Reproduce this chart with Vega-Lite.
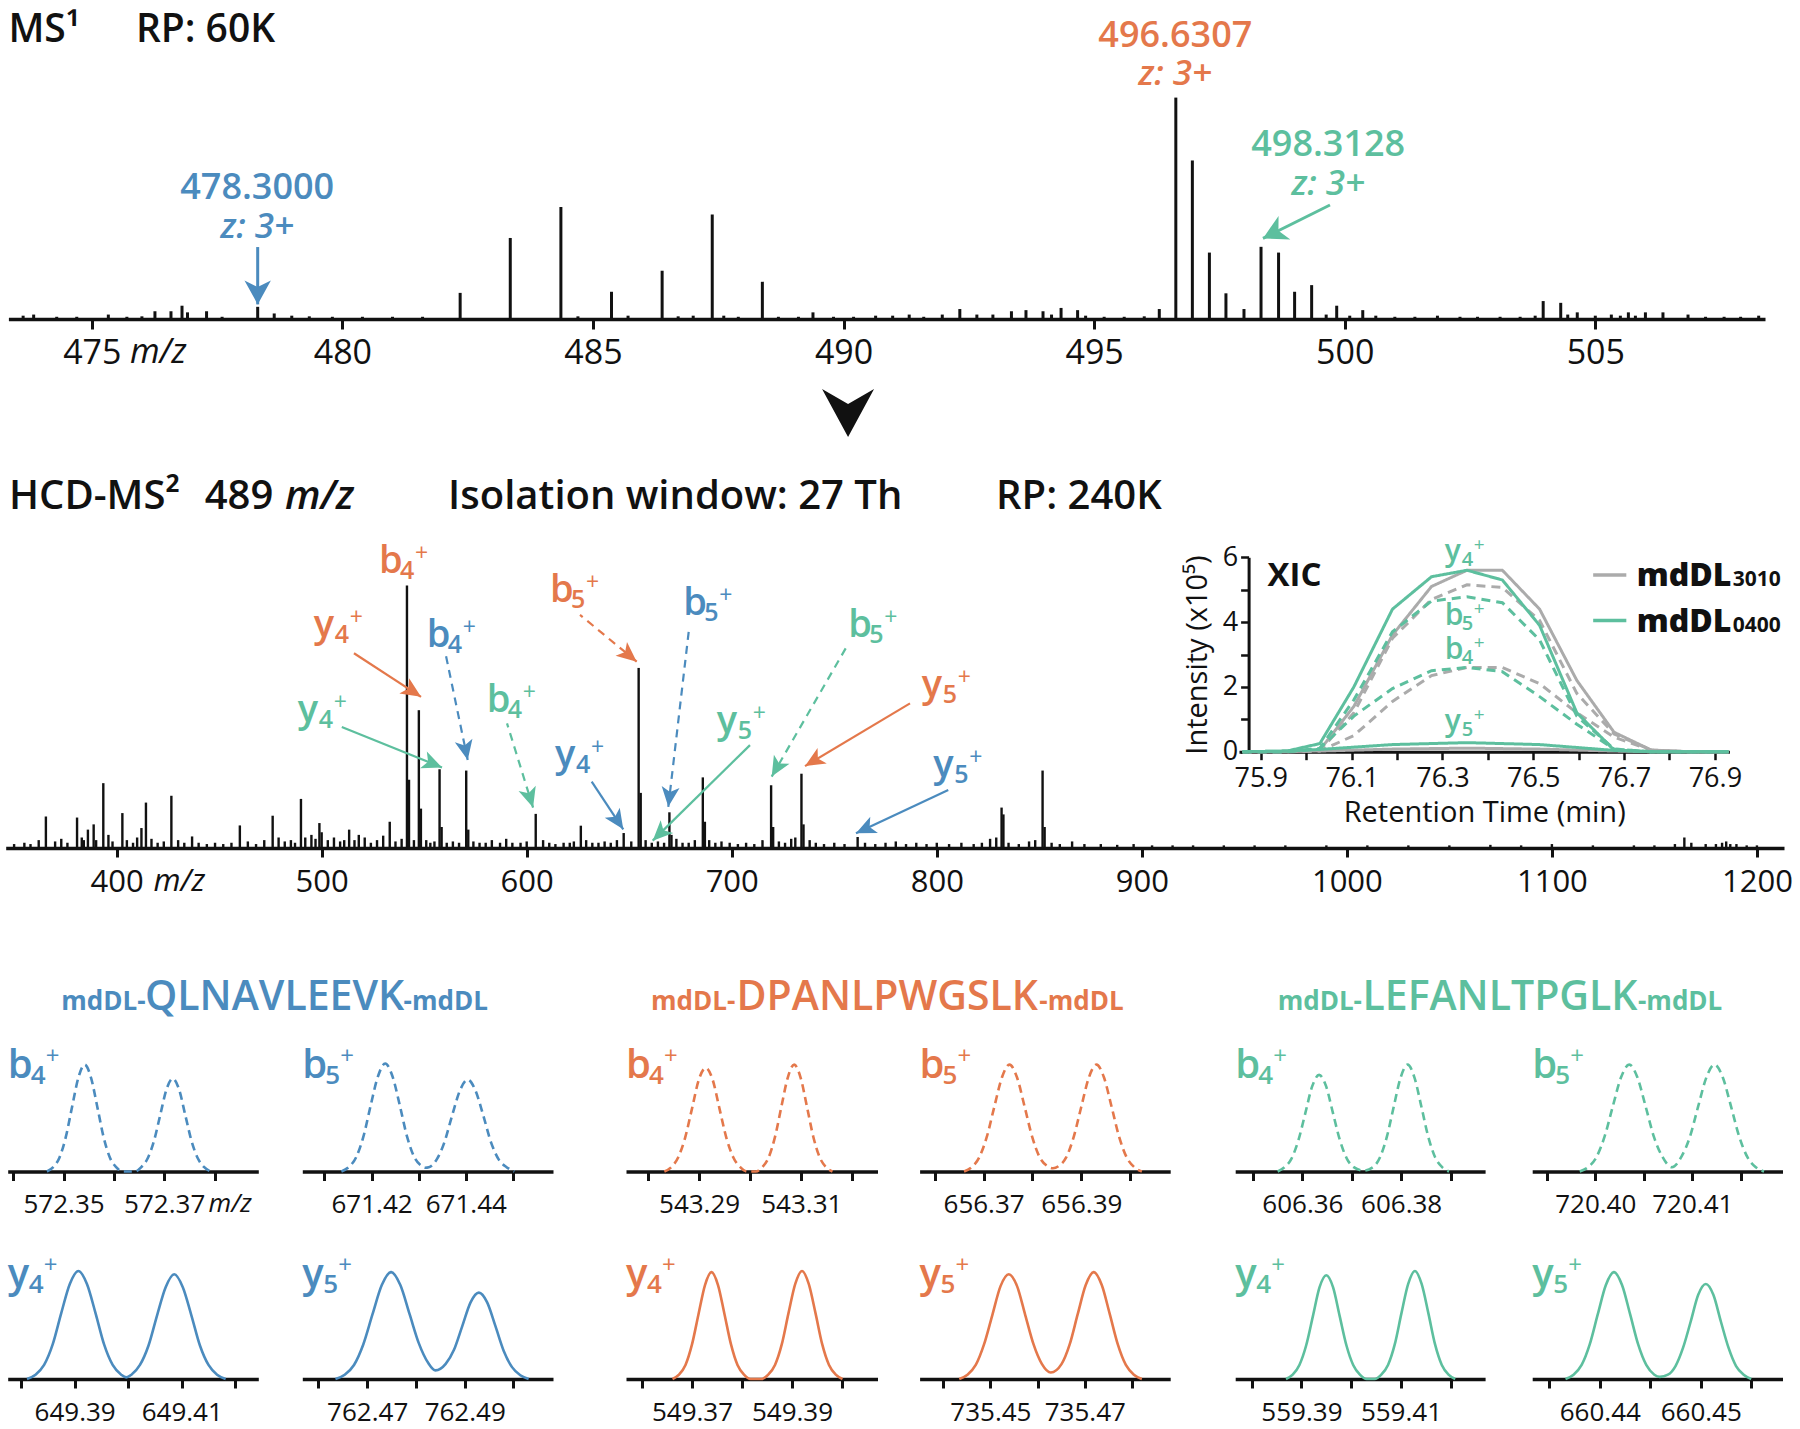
{
"$schema": "https://vega.github.io/schema/vega-lite/v6.json",
"width": 1800, "height": 1429,
"autosize": {"type": "none"},
"padding": 0,
"background": "#ffffff",
"config": {
  "view": {"stroke": null},
  "font": "Open Sans",
  "text": {"font": "Open Sans"},
  "axis": {"grid": false, "domainColor": "#111111", "tickColor": "#111111", "labelColor": "#111111", "titleColor": "#111111", "labelFont": "Open Sans", "titleFont": "Open Sans", "titleFontWeight": "normal", "labelFlush": false, "labelOverlap": false, "domainWidth": 3.5, "tickWidth": 3, "labelPadding": 4}
},
"resolve": {"scale": {"x": "independent", "y": "independent", "color": "independent", "strokeDash": "independent"}, "axis": {"x": "independent", "y": "independent"}},
"datasets": {
  "ms1": [
    {"x":473.63,"y":1.5},{"x":473.84,"y":2},{"x":474.3,"y":1},{"x":474.7,"y":1},{"x":475.33,"y":2},{"x":475.7,"y":1},{"x":476.0,"y":1.2},{"x":476.26,"y":3.5},{"x":476.58,"y":3.5},{"x":476.8,"y":6},{"x":476.91,"y":3},{"x":477.29,"y":3.5},{"x":477.6,"y":1},{"x":478.31,"y":5.5},{"x":478.64,"y":2.5},{"x":478.99,"y":1.5},{"x":479.34,"y":1.2},{"x":479.8,"y":1},{"x":480.4,"y":1},{"x":481.0,"y":1},{"x":481.6,"y":1},{"x":482.35,"y":11.8},{"x":483.35,"y":36.6},{"x":484.36,"y":50.6},{"x":484.7,"y":1.2},{"x":485.37,"y":12.3},{"x":485.7,"y":1.5},{"x":486.38,"y":21.8},{"x":486.7,"y":1.2},{"x":487.0,"y":1.5},{"x":487.38,"y":47.2},{"x":487.61,"y":1.5},{"x":487.9,"y":1},{"x":488.38,"y":16.8},{"x":488.7,"y":1},{"x":489.1,"y":1},{"x":489.39,"y":3},{"x":489.8,"y":1},{"x":490.2,"y":1},{"x":490.64,"y":1.5},{"x":490.98,"y":1.5},{"x":491.31,"y":2},{"x":491.6,"y":1},{"x":491.97,"y":2},{"x":492.32,"y":4.5},{"x":492.66,"y":2},{"x":492.98,"y":2},{"x":493.35,"y":3.5},{"x":493.64,"y":4},{"x":493.98,"y":3.5},{"x":494.15,"y":2},{"x":494.34,"y":5},{"x":494.67,"y":4},{"x":494.83,"y":1.5},{"x":495.2,"y":1},{"x":495.6,"y":1},{"x":496.0,"y":1.2},{"x":496.3,"y":4.5},{"x":496.63,"y":100},{"x":496.96,"y":71.6},{"x":497.3,"y":30},{"x":497.63,"y":11.6},{"x":497.99,"y":4.5},{"x":498.33,"y":32.6},{"x":498.68,"y":30},{"x":499.0,"y":12.3},{"x":499.34,"y":15.3},{"x":499.63,"y":2},{"x":499.84,"y":6},{"x":500.1,"y":1.5},{"x":500.36,"y":4},{"x":500.62,"y":1.5},{"x":501.0,"y":1},{"x":501.4,"y":1},{"x":501.85,"y":1.5},{"x":502.3,"y":1},{"x":502.65,"y":1},{"x":503.1,"y":1},{"x":503.5,"y":1},{"x":503.8,"y":1.5},{"x":503.96,"y":8.1},{"x":504.31,"y":7.3},{"x":504.45,"y":2},{"x":504.64,"y":3},{"x":505.0,"y":1.5},{"x":505.32,"y":2},{"x":505.5,"y":1.5},{"x":505.66,"y":3},{"x":505.8,"y":1.5},{"x":506.0,"y":3},{"x":506.35,"y":3},{"x":506.85,"y":2},{"x":507.2,"y":1},{"x":507.57,"y":1},{"x":507.9,"y":1},{"x":508.26,"y":1.5}
  ],
  "ms1t": [
    {"x":478.3,"y":54.0,"t":"478.3000","c":"blue","k":"n"},
    {"x":478.3,"y":36.6,"t":"z: 3+","c":"blue","k":"z"},
    {"x":496.62,"y":122.7,"t":"496.6307","c":"orange","k":"n"},
    {"x":496.62,"y":105.7,"t":"z: 3+","c":"orange","k":"z"},
    {"x":499.67,"y":73.4,"t":"498.3128","c":"green","k":"n"},
    {"x":499.67,"y":55.8,"t":"z: 3+","c":"green","k":"z"}
  ],
  "ms1a": [
    {"x":478.31,"y":6.6,"x2":478.31,"y2":32.5,"c":"blue"},
    {"x":498.369,"y":36.4,"x2":499.706,"y2":51.5,"c":"green"}
  ],
  "ms1ti": [
    {"x":473.336,"y":125.1,"t":"MS¹"},
    {"x":475.88,"y":125.1,"t":"RP: 60K"}
  ],
  "ms2": [
    {"x":365.5,"y":12},{"x":380.7,"y":11.6},{"x":386,"y":7},{"x":388.8,"y":9},{"x":393.5,"y":24.7},{"x":402.8,"y":13.3},{"x":412.1,"y":7.6},{"x":414.3,"y":17.3},{"x":426.7,"y":19.9},{"x":436.8,"y":4.4},{"x":460.1,"y":8.6},{"x":476.1,"y":12.3},{"x":489.9,"y":18.7},{"x":498.9,"y":9.5},{"x":513.4,"y":7},{"x":518.1,"y":5},{"x":530,"y":4.7},{"x":533.2,"y":10},{"x":541.6,"y":100},{"x":542.6,"y":26},{"x":547.4,"y":52.5},{"x":548.4,"y":15},{"x":557.5,"y":30},{"x":558.5,"y":8},{"x":570.5,"y":29.5},{"x":571.5,"y":7},{"x":604.4,"y":13},{"x":626.4,"y":8.5},{"x":647.3,"y":5.7},{"x":654.6,"y":68.6},{"x":655.6,"y":21},{"x":669.6,"y":13.6},{"x":670.6,"y":5},{"x":685.9,"y":26.9},{"x":686.9,"y":10},{"x":719.2,"y":23.9},{"x":720.2,"y":8},{"x":734.0,"y":28.3},{"x":735.0,"y":9},{"x":761.4,"y":4.2},{"x":831.6,"y":15.4},{"x":832.5,"y":12.8},{"x":851.6,"y":29.5},{"x":852.6,"y":8},{"x":1164.6,"y":4},{"x":1183,"y":2},{"x":1185,"y":2.5},{"x":1187,"y":1.5},
    {"x":350,"y":1.5},{"x":355,"y":2},{"x":358,"y":1.5},{"x":362,"y":3},{"x":370,"y":2.5},{"x":373,"y":3.5},{"x":376,"y":2},{"x":383,"y":4},{"x":384,"y":3},{"x":390,"y":3},{"x":396,"y":5},{"x":398,"y":2.5},{"x":405,"y":3},{"x":408,"y":2},{"x":410,"y":4},{"x":417,"y":3.5},{"x":420,"y":2},{"x":423,"y":2.5},{"x":430,"y":3},{"x":433,"y":2},{"x":440,"y":2},{"x":444,"y":1.5},{"x":448,"y":2},{"x":452,"y":1.5},{"x":456,"y":2},{"x":464,"y":2.5},{"x":468,"y":1.5},{"x":472,"y":3},{"x":479,"y":4},{"x":482,"y":2.5},{"x":485,"y":3},{"x":487,"y":2},{"x":492,"y":4},{"x":495,"y":5},{"x":497,"y":3.5},{"x":500,"y":6},{"x":503,"y":3},{"x":506,"y":4},{"x":509,"y":2.5},{"x":511,"y":3},{"x":516,"y":3},{"x":521,"y":4},{"x":524,"y":2},{"x":527,"y":3},{"x":536,"y":2.5},{"x":539,"y":3.5},{"x":545,"y":3},{"x":551,"y":3},{"x":553,"y":2},{"x":555,"y":2.5},{"x":561,"y":2},{"x":564,"y":2.5},{"x":567,"y":2},{"x":574,"y":2.5},{"x":577,"y":2},{"x":580,"y":2},{"x":583,"y":3},{"x":587,"y":2},{"x":590,"y":3.5},{"x":593,"y":2},{"x":597,"y":2},{"x":600,"y":2.5},{"x":608,"y":3},{"x":611,"y":2},{"x":614,"y":1.5},{"x":618,"y":2},{"x":621,"y":2},{"x":623,"y":2.5},{"x":629,"y":3},{"x":632,"y":2},{"x":635,"y":2},{"x":638,"y":2.5},{"x":641,"y":2},{"x":644,"y":3},{"x":651,"y":2.5},{"x":658,"y":3},{"x":661,"y":2},{"x":664,"y":2.5},{"x":667,"y":2},{"x":673,"y":3.5},{"x":676,"y":2},{"x":679,"y":2},{"x":682,"y":3},{"x":689,"y":3},{"x":692,"y":2},{"x":695,"y":2.5},{"x":699,"y":2},{"x":703,"y":1.5},{"x":707,"y":2},{"x":711,"y":1.5},{"x":715,"y":3},{"x":723,"y":2.5},{"x":726,"y":2},{"x":729,"y":3.5},{"x":731,"y":4},{"x":738,"y":3},{"x":741,"y":2},{"x":745,"y":1.5},{"x":750,"y":2},{"x":755,"y":1.5},{"x":765,"y":2},{"x":770,"y":1.5},{"x":775,"y":2},{"x":780,"y":2.5},{"x":785,"y":1.5},{"x":790,"y":2},{"x":795,"y":1.5},{"x":800,"y":2},{"x":806,"y":1.5},{"x":812,"y":2},{"x":818,"y":1.5},{"x":822,"y":2},{"x":826,"y":3.5},{"x":829,"y":4},{"x":835,"y":2},{"x":840,"y":1.5},{"x":845,"y":2.5},{"x":848,"y":3},{"x":856,"y":2},{"x":860,"y":1.5},{"x":866,"y":2.5},{"x":872,"y":1.5},{"x":880,"y":1.5},{"x":888,"y":1.2},{"x":896,"y":1.5},{"x":905,"y":1},{"x":915,"y":1},{"x":925,"y":1},{"x":940,"y":1},{"x":955,"y":1},{"x":970,"y":1},{"x":990,"y":1},{"x":1010,"y":1},{"x":1030,"y":1},{"x":1050,"y":1},{"x":1070,"y":1.2},{"x":1085,"y":1},{"x":1100,"y":1.5},{"x":1120,"y":1},{"x":1140,"y":1},{"x":1150,"y":1},{"x":1160,"y":1.5},{"x":1168,"y":2},{"x":1175,"y":1.5},{"x":1180,"y":1.5},{"x":1190,"y":1.5},{"x":1195,"y":1},{"x":1200,"y":1}
  ],
  "ms2l": [
    {"x":527.97,"y":104.8,"ion":"b","n":"4","c":"orange"},
    {"x":496.17,"y":80.4,"ion":"y","n":"4","c":"orange"},
    {"x":611.36,"y":93.8,"ion":"b","n":"5","c":"orange"},
    {"x":792.64,"y":57.6,"ion":"y","n":"5","c":"orange"},
    {"x":551.23,"y":76.7,"ion":"b","n":"4","c":"blue"},
    {"x":676.37,"y":88.8,"ion":"b","n":"5","c":"blue"},
    {"x":613.8,"y":31.0,"ion":"y","n":"4","c":"blue"},
    {"x":798.3,"y":27.2,"ion":"y","n":"5","c":"blue"},
    {"x":580.54,"y":51.9,"ion":"b","n":"4","c":"green"},
    {"x":756.85,"y":80.5,"ion":"b","n":"5","c":"green"},
    {"x":488.32,"y":48.1,"ion":"y","n":"4","c":"green"},
    {"x":692.66,"y":43.7,"ion":"y","n":"5","c":"green"}
  ],
  "ms2a": [
    {"x":548.45,"y":57.6,"x2":515.76,"y2":74.2,"c":"orange","d":"s"},
    {"x":653.65,"y":71.0,"x2":626.0,"y2":88.8,"c":"orange","d":"d"},
    {"x":735.73,"y":31.2,"x2":786.94,"y2":55.1,"c":"orange","d":"s"},
    {"x":571.23,"y":33.5,"x2":560.55,"y2":73.5,"c":"blue","d":"d"},
    {"x":669.06,"y":15.7,"x2":679.3,"y2":84.3,"c":"blue","d":"d"},
    {"x":647.1,"y":7.1,"x2":631.7,"y2":25.3,"c":"blue","d":"s"},
    {"x":760.6,"y":5.6,"x2":805.6,"y2":22.1,"c":"blue","d":"s"},
    {"x":603.1,"y":15.4,"x2":590.4,"y2":47.5,"c":"green","d":"d"},
    {"x":719.49,"y":27.2,"x2":756.06,"y2":76.7,"c":"green","d":"d"},
    {"x":558.69,"y":30.7,"x2":509.82,"y2":46.1,"c":"green","d":"s"},
    {"x":661.45,"y":2.8,"x2":708.9,"y2":39.2,"c":"green","d":"s"}
  ],
  "ms2ti": [
    {"x":347.5,"y":129,"t":"HCD-MS²","k":"b"},
    {"x":442.96,"y":129,"t":"489","k":"b"},
    {"x":482.1,"y":129,"t":"m/z","k":"i"},
    {"x":561.67,"y":129,"t":"Isolation window: 27 Th","k":"b"},
    {"x":828.9,"y":129,"t":"RP: 240K","k":"b"}
  ],
  "xic": [
    {"x":75.86,"y":0,"s":"gray","k":"s","id":"gy4"},{"x":75.957,"y":0,"s":"gray","k":"s","id":"gy4"},{"x":76.03,"y":0.05,"s":"gray","k":"s","id":"gy4"},{"x":76.105,"y":1.4,"s":"gray","k":"s","id":"gy4"},{"x":76.19,"y":3.6,"s":"gray","k":"s","id":"gy4"},{"x":76.276,"y":5.1,"s":"gray","k":"s","id":"gy4"},{"x":76.354,"y":5.6,"s":"gray","k":"s","id":"gy4"},{"x":76.432,"y":5.6,"s":"gray","k":"s","id":"gy4"},{"x":76.514,"y":4.4,"s":"gray","k":"s","id":"gy4"},{"x":76.596,"y":2.2,"s":"gray","k":"s","id":"gy4"},{"x":76.678,"y":0.6,"s":"gray","k":"s","id":"gy4"},{"x":76.76,"y":0.05,"s":"gray","k":"s","id":"gy4"},{"x":76.842,"y":0,"s":"gray","k":"s","id":"gy4"},{"x":76.93,"y":0,"s":"gray","k":"s","id":"gy4"},
    {"x":75.86,"y":0,"s":"gray","k":"d","id":"gb5"},{"x":75.957,"y":0,"s":"gray","k":"d","id":"gb5"},{"x":76.03,"y":0.03,"s":"gray","k":"d","id":"gb5"},{"x":76.105,"y":1.2,"s":"gray","k":"d","id":"gb5"},{"x":76.19,"y":3.5,"s":"gray","k":"d","id":"gb5"},{"x":76.276,"y":4.7,"s":"gray","k":"d","id":"gb5"},{"x":76.354,"y":5.15,"s":"gray","k":"d","id":"gb5"},{"x":76.432,"y":5.07,"s":"gray","k":"d","id":"gb5"},{"x":76.514,"y":4.05,"s":"gray","k":"d","id":"gb5"},{"x":76.596,"y":1.8,"s":"gray","k":"d","id":"gb5"},{"x":76.678,"y":0.55,"s":"gray","k":"d","id":"gb5"},{"x":76.76,"y":0.05,"s":"gray","k":"d","id":"gb5"},{"x":76.842,"y":0,"s":"gray","k":"d","id":"gb5"},{"x":76.93,"y":0,"s":"gray","k":"d","id":"gb5"},
    {"x":75.86,"y":0,"s":"gray","k":"d","id":"gb4"},{"x":75.957,"y":0,"s":"gray","k":"d","id":"gb4"},{"x":76.03,"y":0.02,"s":"gray","k":"d","id":"gb4"},{"x":76.105,"y":0.5,"s":"gray","k":"d","id":"gb4"},{"x":76.19,"y":1.55,"s":"gray","k":"d","id":"gb4"},{"x":76.276,"y":2.35,"s":"gray","k":"d","id":"gb4"},{"x":76.354,"y":2.6,"s":"gray","k":"d","id":"gb4"},{"x":76.432,"y":2.6,"s":"gray","k":"d","id":"gb4"},{"x":76.514,"y":2.1,"s":"gray","k":"d","id":"gb4"},{"x":76.596,"y":1.2,"s":"gray","k":"d","id":"gb4"},{"x":76.678,"y":0.45,"s":"gray","k":"d","id":"gb4"},{"x":76.76,"y":0.05,"s":"gray","k":"d","id":"gb4"},{"x":76.842,"y":0,"s":"gray","k":"d","id":"gb4"},{"x":76.93,"y":0,"s":"gray","k":"d","id":"gb4"},
    {"x":75.86,"y":0,"s":"gray","k":"s","id":"gy5"},{"x":76.03,"y":0.02,"s":"gray","k":"s","id":"gy5"},{"x":76.19,"y":0.08,"s":"gray","k":"s","id":"gy5"},{"x":76.354,"y":0.11,"s":"gray","k":"s","id":"gy5"},{"x":76.514,"y":0.08,"s":"gray","k":"s","id":"gy5"},{"x":76.678,"y":0.02,"s":"gray","k":"s","id":"gy5"},{"x":76.76,"y":0,"s":"gray","k":"s","id":"gy5"},{"x":76.93,"y":0,"s":"gray","k":"s","id":"gy5"},
    {"x":75.86,"y":0,"s":"green","k":"s","id":"ny4"},{"x":75.957,"y":0.02,"s":"green","k":"s","id":"ny4"},{"x":76.03,"y":0.25,"s":"green","k":"s","id":"ny4"},{"x":76.105,"y":2.0,"s":"green","k":"s","id":"ny4"},{"x":76.19,"y":4.4,"s":"green","k":"s","id":"ny4"},{"x":76.276,"y":5.4,"s":"green","k":"s","id":"ny4"},{"x":76.354,"y":5.6,"s":"green","k":"s","id":"ny4"},{"x":76.432,"y":5.3,"s":"green","k":"s","id":"ny4"},{"x":76.514,"y":3.9,"s":"green","k":"s","id":"ny4"},{"x":76.596,"y":1.2,"s":"green","k":"s","id":"ny4"},{"x":76.678,"y":0.05,"s":"green","k":"s","id":"ny4"},{"x":76.76,"y":0,"s":"green","k":"s","id":"ny4"},{"x":76.93,"y":0,"s":"green","k":"s","id":"ny4"},
    {"x":75.86,"y":0,"s":"green","k":"d","id":"nb5"},{"x":75.957,"y":0,"s":"green","k":"d","id":"nb5"},{"x":76.03,"y":0.1,"s":"green","k":"d","id":"nb5"},{"x":76.105,"y":1.6,"s":"green","k":"d","id":"nb5"},{"x":76.19,"y":3.7,"s":"green","k":"d","id":"nb5"},{"x":76.276,"y":4.65,"s":"green","k":"d","id":"nb5"},{"x":76.354,"y":4.78,"s":"green","k":"d","id":"nb5"},{"x":76.432,"y":4.6,"s":"green","k":"d","id":"nb5"},{"x":76.514,"y":3.45,"s":"green","k":"d","id":"nb5"},{"x":76.596,"y":1.1,"s":"green","k":"d","id":"nb5"},{"x":76.678,"y":0.08,"s":"green","k":"d","id":"nb5"},{"x":76.76,"y":0,"s":"green","k":"d","id":"nb5"},{"x":76.93,"y":0,"s":"green","k":"d","id":"nb5"},
    {"x":75.86,"y":0,"s":"green","k":"d","id":"nb4"},{"x":75.957,"y":0,"s":"green","k":"d","id":"nb4"},{"x":76.03,"y":0.1,"s":"green","k":"d","id":"nb4"},{"x":76.105,"y":1.1,"s":"green","k":"d","id":"nb4"},{"x":76.19,"y":1.95,"s":"green","k":"d","id":"nb4"},{"x":76.276,"y":2.5,"s":"green","k":"d","id":"nb4"},{"x":76.354,"y":2.6,"s":"green","k":"d","id":"nb4"},{"x":76.432,"y":2.47,"s":"green","k":"d","id":"nb4"},{"x":76.514,"y":1.7,"s":"green","k":"d","id":"nb4"},{"x":76.596,"y":0.85,"s":"green","k":"d","id":"nb4"},{"x":76.678,"y":0.08,"s":"green","k":"d","id":"nb4"},{"x":76.76,"y":0,"s":"green","k":"d","id":"nb4"},{"x":76.93,"y":0,"s":"green","k":"d","id":"nb4"},
    {"x":75.86,"y":0,"s":"green","k":"s","id":"ny5"},{"x":75.957,"y":0.02,"s":"green","k":"s","id":"ny5"},{"x":76.03,"y":0.07,"s":"green","k":"s","id":"ny5"},{"x":76.19,"y":0.22,"s":"green","k":"s","id":"ny5"},{"x":76.354,"y":0.28,"s":"green","k":"s","id":"ny5"},{"x":76.514,"y":0.22,"s":"green","k":"s","id":"ny5"},{"x":76.678,"y":0.04,"s":"green","k":"s","id":"ny5"},{"x":76.76,"y":0,"s":"green","k":"s","id":"ny5"},{"x":76.93,"y":0,"s":"green","k":"s","id":"ny5"}
  ],
  "xl": [
    {"x":76.305,"y":5.9,"ion":"y","n":"4"},
    {"x":76.305,"y":3.9,"ion":"b","n":"5"},
    {"x":76.305,"y":2.85,"ion":"b","n":"4"},
    {"x":76.305,"y":0.65,"ion":"y","n":"5"}
  ],
  "xleg": [
    {"x":76.632,"x2":76.705,"y":5.45,"s":"gray"},
    {"x":76.632,"x2":76.705,"y":4.05,"s":"green"}
  ],
  "xlegt": [
    {"x":76.728,"y":5.1,"t":"mdDL","n":"3010"},
    {"x":76.728,"y":3.7,"t":"mdDL","n":"0400"}
  ],
  "curves": [
    {"p":"P1","x":572.3467,"y":0},{"p":"P1","x":572.34795,"y":4},{"p":"P1","x":572.3492,"y":13},{"p":"P1","x":572.35045,"y":32},{"p":"P1","x":572.3517,"y":60},{"p":"P1","x":572.35295,"y":87},{"p":"P1","x":572.3542,"y":99},{"p":"P1","x":572.35545,"y":87},{"p":"P1","x":572.3567,"y":60},{"p":"P1","x":572.35795,"y":32},{"p":"P1","x":572.3592,"y":13},{"p":"P1","x":572.36045,"y":4},{"p":"P1","x":572.3617,"y":0},{"p":"P1","x":572.3642,"y":0},{"p":"P1","x":572.36545,"y":4},{"p":"P1","x":572.3667,"y":12},{"p":"P1","x":572.36795,"y":28},{"p":"P1","x":572.3692,"y":52},{"p":"P1","x":572.37045,"y":76},{"p":"P1","x":572.3717,"y":86},{"p":"P1","x":572.37295,"y":76},{"p":"P1","x":572.3742,"y":52},{"p":"P1","x":572.37545,"y":28},{"p":"P1","x":572.3767,"y":12},{"p":"P1","x":572.37795,"y":4},{"p":"P1","x":572.3792,"y":0},
    {"p":"P2","x":671.4136,"y":0},{"p":"P2","x":671.41515,"y":4},{"p":"P2","x":671.4167,"y":13},{"p":"P2","x":671.41825,"y":32},{"p":"P2","x":671.4198,"y":61},{"p":"P2","x":671.42135,"y":88},{"p":"P2","x":671.4229,"y":100},{"p":"P2","x":671.42445,"y":88},{"p":"P2","x":671.426,"y":61},{"p":"P2","x":671.42755,"y":32},{"p":"P2","x":671.4291,"y":13},{"p":"P2","x":671.43065,"y":5},{"p":"P2","x":671.4314,"y":3.5},{"p":"P2","x":671.43215,"y":4},{"p":"P2","x":671.4338,"y":11},{"p":"P2","x":671.43545,"y":27},{"p":"P2","x":671.4371,"y":52},{"p":"P2","x":671.43875,"y":75},{"p":"P2","x":671.4404,"y":85},{"p":"P2","x":671.44205,"y":75},{"p":"P2","x":671.4437,"y":52},{"p":"P2","x":671.44535,"y":27},{"p":"P2","x":671.447,"y":11},{"p":"P2","x":671.44865,"y":4},{"p":"P2","x":671.4503,"y":0},
    {"p":"P3","x":543.2832,"y":0},{"p":"P3","x":543.28455,"y":4},{"p":"P3","x":543.2859,"y":13},{"p":"P3","x":543.28725,"y":31},{"p":"P3","x":543.2886,"y":58},{"p":"P3","x":543.28995,"y":85},{"p":"P3","x":543.2913,"y":96},{"p":"P3","x":543.29265,"y":85},{"p":"P3","x":543.294,"y":58},{"p":"P3","x":543.29535,"y":31},{"p":"P3","x":543.2967,"y":13},{"p":"P3","x":543.29805,"y":4},{"p":"P3","x":543.2994,"y":0},{"p":"P3","x":543.3011,"y":0},{"p":"P3","x":543.30235,"y":4},{"p":"P3","x":543.3036,"y":13},{"p":"P3","x":543.30485,"y":32},{"p":"P3","x":543.3061,"y":60},{"p":"P3","x":543.30735,"y":87},{"p":"P3","x":543.3086,"y":99},{"p":"P3","x":543.30985,"y":87},{"p":"P3","x":543.3111,"y":60},{"p":"P3","x":543.31235,"y":32},{"p":"P3","x":543.3136,"y":13},{"p":"P3","x":543.31485,"y":4},{"p":"P3","x":543.3161,"y":0},
    {"p":"P4","x":656.366,"y":0},{"p":"P4","x":656.36755,"y":4},{"p":"P4","x":656.3691,"y":13},{"p":"P4","x":656.37065,"y":32},{"p":"P4","x":656.3722,"y":60},{"p":"P4","x":656.37375,"y":87},{"p":"P4","x":656.3753,"y":99},{"p":"P4","x":656.37685,"y":87},{"p":"P4","x":656.3784,"y":60},{"p":"P4","x":656.37995,"y":32},{"p":"P4","x":656.3815,"y":13},{"p":"P4","x":656.38305,"y":5},{"p":"P4","x":656.3842,"y":3},{"p":"P4","x":656.38535,"y":5},{"p":"P4","x":656.3869,"y":13},{"p":"P4","x":656.38845,"y":32},{"p":"P4","x":656.39,"y":60},{"p":"P4","x":656.39155,"y":87},{"p":"P4","x":656.3931,"y":99},{"p":"P4","x":656.39465,"y":87},{"p":"P4","x":656.3962,"y":60},{"p":"P4","x":656.39775,"y":32},{"p":"P4","x":656.3993,"y":13},{"p":"P4","x":656.40085,"y":4},{"p":"P4","x":656.4024,"y":0},
    {"p":"P5","x":606.355,"y":0},{"p":"P5","x":606.3564,"y":4},{"p":"P5","x":606.3578,"y":12},{"p":"P5","x":606.3592,"y":29},{"p":"P5","x":606.3606,"y":54},{"p":"P5","x":606.362,"y":79},{"p":"P5","x":606.3634,"y":89.5},{"p":"P5","x":606.3648,"y":79},{"p":"P5","x":606.3662,"y":54},{"p":"P5","x":606.3676,"y":29},{"p":"P5","x":606.369,"y":12},{"p":"P5","x":606.3704,"y":4},{"p":"P5","x":606.37235,"y":0.8},{"p":"P5","x":606.3743,"y":4},{"p":"P5","x":606.3757,"y":13},{"p":"P5","x":606.3771,"y":32},{"p":"P5","x":606.3785,"y":60},{"p":"P5","x":606.3799,"y":87},{"p":"P5","x":606.3813,"y":99},{"p":"P5","x":606.3827,"y":87},{"p":"P5","x":606.3841,"y":60},{"p":"P5","x":606.3855,"y":32},{"p":"P5","x":606.3869,"y":13},{"p":"P5","x":606.3883,"y":4},{"p":"P5","x":606.3897,"y":0},
    {"p":"P6","x":720.3984,"y":0},{"p":"P6","x":720.39925,"y":4},{"p":"P6","x":720.4001,"y":13},{"p":"P6","x":720.40095,"y":32},{"p":"P6","x":720.4018,"y":60},{"p":"P6","x":720.40265,"y":87},{"p":"P6","x":720.4035,"y":99},{"p":"P6","x":720.40435,"y":87},{"p":"P6","x":720.4052,"y":60},{"p":"P6","x":720.40605,"y":32},{"p":"P6","x":720.4069,"y":14},{"p":"P6","x":720.4079,"y":4},{"p":"P6","x":720.4089,"y":14},{"p":"P6","x":720.40975,"y":32},{"p":"P6","x":720.4106,"y":60},{"p":"P6","x":720.41145,"y":87},{"p":"P6","x":720.4123,"y":99},{"p":"P6","x":720.41315,"y":87},{"p":"P6","x":720.414,"y":60},{"p":"P6","x":720.41485,"y":32},{"p":"P6","x":720.4157,"y":13},{"p":"P6","x":720.41655,"y":4},{"p":"P6","x":720.4174,"y":0},
    {"p":"P7","x":649.3811,"y":0},{"p":"P7","x":649.3827,"y":4},{"p":"P7","x":649.3843,"y":13},{"p":"P7","x":649.3859,"y":32},{"p":"P7","x":649.3875,"y":61},{"p":"P7","x":649.3891,"y":88},{"p":"P7","x":649.3907,"y":100},{"p":"P7","x":649.3923,"y":88},{"p":"P7","x":649.3939,"y":61},{"p":"P7","x":649.3955,"y":32},{"p":"P7","x":649.3971,"y":13},{"p":"P7","x":649.3987,"y":4},{"p":"P7","x":649.39965,"y":1.5},{"p":"P7","x":649.4006,"y":4},{"p":"P7","x":649.4022,"y":13},{"p":"P7","x":649.4038,"y":31},{"p":"P7","x":649.4054,"y":59},{"p":"P7","x":649.407,"y":85},{"p":"P7","x":649.4086,"y":97},{"p":"P7","x":649.4102,"y":85},{"p":"P7","x":649.4118,"y":59},{"p":"P7","x":649.4134,"y":31},{"p":"P7","x":649.415,"y":13},{"p":"P7","x":649.4166,"y":4},{"p":"P7","x":649.4182,"y":0},
    {"p":"P8","x":762.4635,"y":0},{"p":"P8","x":762.4654,"y":4},{"p":"P8","x":762.4673,"y":13},{"p":"P8","x":762.4692,"y":32},{"p":"P8","x":762.4711,"y":60},{"p":"P8","x":762.473,"y":87},{"p":"P8","x":762.4749,"y":99},{"p":"P8","x":762.4768,"y":87},{"p":"P8","x":762.4787,"y":60},{"p":"P8","x":762.4806,"y":33},{"p":"P8","x":762.4825,"y":15},{"p":"P8","x":762.484,"y":8},{"p":"P8","x":762.4861,"y":14},{"p":"P8","x":762.4878,"y":27},{"p":"P8","x":762.4895,"y":49},{"p":"P8","x":762.4912,"y":71},{"p":"P8","x":762.4929,"y":80},{"p":"P8","x":762.4946,"y":71},{"p":"P8","x":762.4963,"y":49},{"p":"P8","x":762.498,"y":26},{"p":"P8","x":762.4997,"y":11},{"p":"P8","x":762.5014,"y":3.5},{"p":"P8","x":762.5031,"y":0},
    {"p":"P9","x":549.3661,"y":0},{"p":"P9","x":549.3674,"y":4},{"p":"P9","x":549.3687,"y":13},{"p":"P9","x":549.37,"y":32},{"p":"P9","x":549.3713,"y":60},{"p":"P9","x":549.3726,"y":87},{"p":"P9","x":549.3739,"y":99},{"p":"P9","x":549.3752,"y":87},{"p":"P9","x":549.3765,"y":60},{"p":"P9","x":549.3778,"y":32},{"p":"P9","x":549.3791,"y":13},{"p":"P9","x":549.3804,"y":4},{"p":"P9","x":549.3817,"y":0},{"p":"P9","x":549.3839,"y":0},{"p":"P9","x":549.38525,"y":4},{"p":"P9","x":549.3866,"y":13},{"p":"P9","x":549.38795,"y":32},{"p":"P9","x":549.3893,"y":61},{"p":"P9","x":549.39065,"y":88},{"p":"P9","x":549.392,"y":100},{"p":"P9","x":549.39335,"y":88},{"p":"P9","x":549.3947,"y":61},{"p":"P9","x":549.39605,"y":32},{"p":"P9","x":549.3974,"y":13},{"p":"P9","x":549.39875,"y":4},{"p":"P9","x":549.4001,"y":0},
    {"p":"P10","x":735.4434,"y":0},{"p":"P10","x":735.44515,"y":4},{"p":"P10","x":735.4469,"y":13},{"p":"P10","x":735.44865,"y":32},{"p":"P10","x":735.4504,"y":59},{"p":"P10","x":735.45215,"y":86},{"p":"P10","x":735.4539,"y":97},{"p":"P10","x":735.45565,"y":86},{"p":"P10","x":735.4574,"y":59},{"p":"P10","x":735.45915,"y":32},{"p":"P10","x":735.4609,"y":14},{"p":"P10","x":735.4628,"y":6},{"p":"P10","x":735.4651,"y":14},{"p":"P10","x":735.4668,"y":32},{"p":"P10","x":735.4685,"y":60},{"p":"P10","x":735.4702,"y":87},{"p":"P10","x":735.4719,"y":99},{"p":"P10","x":735.4736,"y":87},{"p":"P10","x":735.4753,"y":60},{"p":"P10","x":735.477,"y":32},{"p":"P10","x":735.4787,"y":13},{"p":"P10","x":735.4804,"y":4},{"p":"P10","x":735.4821,"y":0},
    {"p":"P11","x":559.3869,"y":0},{"p":"P11","x":559.38825,"y":4},{"p":"P11","x":559.3896,"y":13},{"p":"P11","x":559.39095,"y":31},{"p":"P11","x":559.3923,"y":58},{"p":"P11","x":559.39365,"y":85},{"p":"P11","x":559.395,"y":96},{"p":"P11","x":559.39635,"y":85},{"p":"P11","x":559.3977,"y":58},{"p":"P11","x":559.39905,"y":31},{"p":"P11","x":559.4004,"y":13},{"p":"P11","x":559.40175,"y":4},{"p":"P11","x":559.4031,"y":0},{"p":"P11","x":559.4047,"y":0},{"p":"P11","x":559.40605,"y":4},{"p":"P11","x":559.4074,"y":13},{"p":"P11","x":559.40875,"y":32},{"p":"P11","x":559.4101,"y":61},{"p":"P11","x":559.41145,"y":88},{"p":"P11","x":559.4128,"y":100},{"p":"P11","x":559.41415,"y":88},{"p":"P11","x":559.4155,"y":61},{"p":"P11","x":559.41685,"y":32},{"p":"P11","x":559.4182,"y":13},{"p":"P11","x":559.41955,"y":4},{"p":"P11","x":559.4209,"y":0},
    {"p":"P12","x":660.4366,"y":0},{"p":"P12","x":660.4374,"y":4},{"p":"P12","x":660.4382,"y":13},{"p":"P12","x":660.439,"y":32},{"p":"P12","x":660.4398,"y":60},{"p":"P12","x":660.4406,"y":87},{"p":"P12","x":660.4414,"y":99},{"p":"P12","x":660.4422,"y":87},{"p":"P12","x":660.443,"y":60},{"p":"P12","x":660.4438,"y":32},{"p":"P12","x":660.4446,"y":13},{"p":"P12","x":660.4454,"y":4},{"p":"P12","x":660.44595,"y":2},{"p":"P12","x":660.44675,"y":4},{"p":"P12","x":660.4475,"y":12},{"p":"P12","x":660.44825,"y":29},{"p":"P12","x":660.449,"y":53},{"p":"P12","x":660.44975,"y":78},{"p":"P12","x":660.4505,"y":88},{"p":"P12","x":660.45125,"y":78},{"p":"P12","x":660.452,"y":53},{"p":"P12","x":660.45275,"y":29},{"p":"P12","x":660.4535,"y":12},{"p":"P12","x":660.45425,"y":4},{"p":"P12","x":660.455,"y":0}
  ],
  "plab": [
    {"p":"P1","x":572.3389,"y":86.6,"ion":"b","n":"4"},
    {"p":"P2","x":671.4053,"y":86.6,"ion":"b","n":"5"},
    {"p":"P3","x":543.2757,"y":86.6,"ion":"b","n":"4"},
    {"p":"P4","x":656.3569,"y":86.6,"ion":"b","n":"5"},
    {"p":"P5","x":606.3464,"y":86.6,"ion":"b","n":"4"},
    {"p":"P6","x":720.3935,"y":86.6,"ion":"b","n":"5"},
    {"p":"P7","x":649.3775,"y":85,"ion":"y","n":"4"},
    {"p":"P8","x":762.4567,"y":85,"ion":"y","n":"5"},
    {"p":"P9","x":549.3568,"y":85,"ion":"y","n":"4"},
    {"p":"P10","x":735.435,"y":85,"ion":"y","n":"5"},
    {"p":"P11","x":559.3767,"y":85,"ion":"y","n":"4"},
    {"p":"P12","x":660.4333,"y":85,"ion":"y","n":"5"}
  ],
  "gt": [
    {"g":"blue","m":"QLNAVLEEVK","y":0},
    {"g":"orange","m":"DPANLPWGSLK","y":0},
    {"g":"green","m":"LEFANLTPGLK","y":0}
  ]
},
"layer": [
  {
    "encoding": {
      "x": {"field":"x","type":"quantitative","scale":{"domain":[473.336,508.386],"range":[8.4,1765],"nice":false,"zero":false},"axis":{"orient":"bottom","offset":-1110,"values":[475,480,485,490,495,500,505],"format":"d","tickSize":10,"labelFontSize":34,"labelPadding":7,"title":null}},
      "y": {"field":"y","type":"quantitative","scale":{"domain":[0,100],"range":[319,97.6],"nice":false,"zero":false},"axis":null}
    },
    "layer": [
      {"data":{"name":"ms1"},"mark":{"type":"rule","color":"#111111","strokeWidth":3},"encoding":{"y2":{"datum":0}}},
      {"data":{"name":"ms1t"},"transform":[{"filter":"datum.k=='n'"}],"mark":{"type":"text","fontSize":36,"fontWeight":600,"align":"center","baseline":"alphabetic"},"encoding":{"text":{"field":"t"},"color":{"field":"c","type":"nominal","scale":{"domain":["blue","orange","green"],"range":["#4b8bbe","#e4784b","#5dbf9e"]},"legend":null}}},
      {"data":{"name":"ms1t"},"transform":[{"filter":"datum.k=='z'"}],"mark":{"type":"text","fontSize":35,"fontWeight":600,"fontStyle":"italic","align":"center","baseline":"alphabetic"},"encoding":{"text":{"field":"t"},"color":{"field":"c","type":"nominal","scale":{"domain":["blue","orange","green"],"range":["#4b8bbe","#e4784b","#5dbf9e"]},"legend":null}}},
      {"data":{"name":"ms1a"},"mark":{"type":"rule","strokeWidth":3},"encoding":{"x2":{"field":"x2"},"y2":{"field":"y2"},"color":{"field":"c","type":"nominal","scale":{"domain":["blue","orange","green"],"range":["#4b8bbe","#e4784b","#5dbf9e"]},"legend":null}}},
      {"data":{"name":"ms1a"},"transform":[{"calculate":"atan2((datum.x-datum.x2)*50.117,(datum.y-datum.y2)*2.214)*180/PI","as":"ang"}],"mark":{"type":"point","shape":"M0,0L0.55,1L0,0.72L-0.55,1Z","size":2304,"filled":true,"opacity":1,"strokeWidth":0},"encoding":{"angle":{"field":"ang","type":"quantitative","scale":null},"color":{"field":"c","type":"nominal","scale":{"domain":["blue","orange","green"],"range":["#4b8bbe","#e4784b","#5dbf9e"]},"legend":null}}},
      {"data":{"name":"ms1ti"},"mark":{"type":"text","fontSize":39,"fontWeight":600,"align":"left","baseline":"alphabetic","color":"#111111"},"encoding":{"text":{"field":"t"}}},
      {"data":{"values":[{"x":475.76,"y":-7.68}]},"mark":{"type":"text","text":"m/z","fontStyle":"italic","fontSize":34,"align":"left","baseline":"top","color":"#111111"}},
      {"data":{"values":[{"x":490.09,"y":-53.3}]},"mark":{"type":"point","shape":"M0,0L-1,-1.85L0,-1.27L1,-1.85Z","size":2704,"filled":true,"opacity":1,"color":"#111111","strokeWidth":0}}
    ]
  },
  {
    "encoding": {
      "x": {"field":"x","type":"quantitative","scale":{"domain":[345.9,1213.2],"range":[5.7,1784],"nice":false,"zero":false},"axis":{"orient":"bottom","offset":-581,"values":[400,500,600,700,800,900,1000,1100,1200],"format":"d","tickSize":9,"labelFontSize":31,"labelPadding":10,"title":null}},
      "y": {"field":"y","type":"quantitative","scale":{"domain":[0,100],"range":[848,585.5],"nice":false,"zero":false},"axis":null}
    },
    "layer": [
      {"data":{"name":"ms2"},"mark":{"type":"rule","color":"#111111","strokeWidth":2.4},"encoding":{"y2":{"datum":0}}},
      {"data":{"name":"ms2a"},"transform":[{"filter":"datum.d=='s'"}],"mark":{"type":"rule","strokeWidth":2.2},"encoding":{"x2":{"field":"x2"},"y2":{"field":"y2"},"color":{"field":"c","type":"nominal","scale":{"domain":["blue","orange","green"],"range":["#4b8bbe","#e4784b","#5dbf9e"]},"legend":null}}},
      {"data":{"name":"ms2a"},"transform":[{"filter":"datum.d=='d'"}],"mark":{"type":"rule","strokeWidth":2.2,"strokeDash":[8,6]},"encoding":{"x2":{"field":"x2"},"y2":{"field":"y2"},"color":{"field":"c","type":"nominal","scale":{"domain":["blue","orange","green"],"range":["#4b8bbe","#e4784b","#5dbf9e"]},"legend":null}}},
      {"data":{"name":"ms2a"},"transform":[{"calculate":"atan2((datum.x-datum.x2)*2.0504,(datum.y-datum.y2)*2.625)*180/PI","as":"ang"}],"mark":{"type":"point","shape":"M0,0L0.45,1L0,0.75L-0.45,1Z","size":1600,"filled":true,"opacity":1,"strokeWidth":0},"encoding":{"angle":{"field":"ang","type":"quantitative","scale":null},"color":{"field":"c","type":"nominal","scale":{"domain":["blue","orange","green"],"range":["#4b8bbe","#e4784b","#5dbf9e"]},"legend":null}}},
      {"data":{"name":"ms2l"},"mark":{"type":"text","fontSize":38,"fontWeight":600,"align":"left","baseline":"alphabetic"},"encoding":{"text":{"field":"ion"},"color":{"field":"c","type":"nominal","scale":{"domain":["blue","orange","green"],"range":["#4b8bbe","#e4784b","#5dbf9e"]},"legend":null}}},
      {"data":{"name":"ms2l"},"mark":{"type":"text","fontSize":25,"fontWeight":600,"align":"left","baseline":"alphabetic","dx":21,"dy":6},"encoding":{"text":{"field":"n"},"color":{"field":"c","type":"nominal","scale":{"domain":["blue","orange","green"],"range":["#4b8bbe","#e4784b","#5dbf9e"]},"legend":null}}},
      {"data":{"name":"ms2l"},"mark":{"type":"text","text":"+","fontSize":23,"align":"left","baseline":"alphabetic","dx":36,"dy":-12},"encoding":{"color":{"field":"c","type":"nominal","scale":{"domain":["blue","orange","green"],"range":["#4b8bbe","#e4784b","#5dbf9e"]},"legend":null}}},
      {"data":{"name":"ms2ti"},"transform":[{"filter":"datum.k=='b'"}],"mark":{"type":"text","fontSize":40,"fontWeight":600,"align":"left","baseline":"alphabetic","color":"#111111"},"encoding":{"text":{"field":"t"}}},
      {"data":{"name":"ms2ti"},"transform":[{"filter":"datum.k=='i'"}],"mark":{"type":"text","fontSize":40,"fontWeight":600,"fontStyle":"italic","align":"left","baseline":"alphabetic","color":"#111111"},"encoding":{"text":{"field":"t"}}},
      {"data":{"values":[{"x":418.0,"y":-7.24}]},"mark":{"type":"text","text":"m/z","fontStyle":"italic","fontSize":31,"align":"left","baseline":"top","color":"#111111"}}
    ]
  },
  {
    "encoding": {
      "x": {"field":"x","type":"quantitative","scale":{"domain":[75.852,76.932],"range":[1239,1729.4],"nice":false,"zero":false},"axis":{"orient":"bottom","offset":-677.3,"values":[75.9,76,76.1,76.2,76.3,76.4,76.5,76.6,76.7,76.8,76.9],"labelExpr":"indexof([75.9,76.1,76.3,76.5,76.7,76.9], datum.value) >= 0 ? format(datum.value, '.1f') : ''","tickSize":8,"tickWidth":2.5,"domainWidth":3,"labelFontSize":27,"labelPadding":6,"title":"Retention Time (min)","titleFontSize":29,"titlePadding":7}},
      "y": {"field":"y","type":"quantitative","scale":{"domain":[0,6],"range":[751.7,557.3],"nice":false,"zero":false},"axis":{"orient":"left","offset":-1248.6,"values":[0,1,2,3,4,5,6],"labelExpr":"datum.value % 2 == 0 ? datum.label : ''","tickSize":8,"tickWidth":2.5,"domainWidth":3,"labelFontSize":27,"labelPadding":3,"title":"Intensity (x10⁵)","titleFontSize":29,"titlePadding":10}}
    },
    "layer": [
      {"data":{"name":"xic"},"transform":[{"filter":"datum.s=='gray'"}],"mark":{"type":"line","color":"#ababab","strokeWidth":3},"encoding":{"detail":{"field":"id"},"strokeDash":{"field":"k","type":"nominal","scale":{"domain":["s","d"],"range":[[1,0],[9,6]]},"legend":null}}},
      {"data":{"name":"xic"},"transform":[{"filter":"datum.s=='green'"}],"mark":{"type":"line","color":"#5dbf9e","strokeWidth":3},"encoding":{"detail":{"field":"id"},"strokeDash":{"field":"k","type":"nominal","scale":{"domain":["s","d"],"range":[[1,0],[9,6]]},"legend":null}}},
      {"data":{"name":"xl"},"mark":{"type":"text","fontSize":30,"fontWeight":600,"align":"left","baseline":"alphabetic","color":"#5dbf9e"},"encoding":{"text":{"field":"ion"}}},
      {"data":{"name":"xl"},"mark":{"type":"text","fontSize":20,"fontWeight":600,"align":"left","baseline":"alphabetic","dx":17,"dy":5,"color":"#5dbf9e"},"encoding":{"text":{"field":"n"}}},
      {"data":{"name":"xl"},"mark":{"type":"text","text":"+","fontSize":19,"align":"left","baseline":"alphabetic","dx":29,"dy":-10,"color":"#5dbf9e"}},
      {"data":{"values":[{"x":75.915,"y":5.1}]},"mark":{"type":"text","text":"XIC","fontSize":33,"fontWeight":"bold","align":"left","baseline":"alphabetic","color":"#111111"}},
      {"data":{"name":"xleg"},"mark":{"type":"rule","strokeWidth":3.5},"encoding":{"x2":{"field":"x2"},"color":{"field":"s","type":"nominal","scale":{"domain":["gray","green"],"range":["#ababab","#5dbf9e"]},"legend":null}}},
      {"data":{"name":"xlegt"},"mark":{"type":"text","fontSize":32,"fontWeight":800,"align":"left","baseline":"alphabetic","color":"#111111"},"encoding":{"text":{"field":"t"}}},
      {"data":{"name":"xlegt"},"mark":{"type":"text","fontSize":21,"fontWeight":700,"align":"left","baseline":"alphabetic","dx":96,"color":"#111111"},"encoding":{"text":{"field":"n"}}}
    ]
  },
  {
    "encoding": {
      "x": {"field":"x","type":"quantitative","scale":{"domain":[572.3389,572.3887],"range":[7.7,258.3],"nice":false,"zero":false},"axis":{"orient":"bottom","offset":-257.5,"values":[572.34,572.35,572.36,572.37,572.38],"labelExpr":"indexof([572.35,572.37], datum.value) >= 0 ? format(datum.value, '.2f') : ''","tickSize":9,"labelFontSize":26,"labelPadding":11,"title":null}},
      "y": {"field":"y","type":"quantitative","scale":{"domain":[0,100],"range":[1171.5,1063.5],"nice":false,"zero":false},"axis":null}
    },
    "layer": [
      {"data":{"name":"curves"},"transform":[{"filter":"datum.p=='P1'"}],"mark":{"type":"line","interpolate":"monotone","color":"#4b8bbe","strokeWidth":2.6,"strokeDash":[8,5]}},
      {"data":{"name":"plab"},"transform":[{"filter":"datum.p=='P1'"}],"mark":{"type":"text","fontSize":40,"fontWeight":600,"align":"left","baseline":"alphabetic","color":"#4b8bbe"},"encoding":{"text":{"field":"ion"}}},
      {"data":{"name":"plab"},"transform":[{"filter":"datum.p=='P1'"}],"mark":{"type":"text","fontSize":26,"fontWeight":600,"align":"left","baseline":"alphabetic","dx":23,"dy":6,"color":"#4b8bbe"},"encoding":{"text":{"field":"n"}}},
      {"data":{"name":"plab"},"transform":[{"filter":"datum.p=='P1'"}],"mark":{"type":"text","text":"+","fontSize":24,"align":"left","baseline":"alphabetic","dx":38,"dy":-14,"color":"#4b8bbe"}},
      {"data":{"values":[{"x":572.3788,"y":-18.5}]},"mark":{"type":"text","text":"m/z","fontStyle":"italic","fontSize":26,"align":"left","baseline":"top","color":"#111111"}}
    ]
  },
  {
    "encoding": {
      "x": {"field":"x","type":"quantitative","scale":{"domain":[671.4053,671.4585],"range":[302.3,553],"nice":false,"zero":false},"axis":{"orient":"bottom","offset":-257.5,"values":[671.41,671.42,671.43,671.44,671.45],"labelExpr":"indexof([671.42,671.44], datum.value) >= 0 ? format(datum.value, '.2f') : ''","tickSize":9,"labelFontSize":26,"labelPadding":11,"title":null}},
      "y": {"field":"y","type":"quantitative","scale":{"domain":[0,100],"range":[1171.5,1063.5],"nice":false,"zero":false},"axis":null}
    },
    "layer": [
      {"data":{"name":"curves"},"transform":[{"filter":"datum.p=='P2'"}],"mark":{"type":"line","interpolate":"monotone","color":"#4b8bbe","strokeWidth":2.6,"strokeDash":[8,5]}},
      {"data":{"name":"plab"},"transform":[{"filter":"datum.p=='P2'"}],"mark":{"type":"text","fontSize":40,"fontWeight":600,"align":"left","baseline":"alphabetic","color":"#4b8bbe"},"encoding":{"text":{"field":"ion"}}},
      {"data":{"name":"plab"},"transform":[{"filter":"datum.p=='P2'"}],"mark":{"type":"text","fontSize":26,"fontWeight":600,"align":"left","baseline":"alphabetic","dx":23,"dy":6,"color":"#4b8bbe"},"encoding":{"text":{"field":"n"}}},
      {"data":{"name":"plab"},"transform":[{"filter":"datum.p=='P2'"}],"mark":{"type":"text","text":"+","fontSize":24,"align":"left","baseline":"alphabetic","dx":38,"dy":-14,"color":"#4b8bbe"}}
    ]
  },
  {
    "encoding": {
      "x": {"field":"x","type":"quantitative","scale":{"domain":[543.2757,543.3249],"range":[626,877.5],"nice":false,"zero":false},"axis":{"orient":"bottom","offset":-257.5,"values":[543.28,543.29,543.30,543.31,543.32],"labelExpr":"indexof([543.29,543.31], datum.value) >= 0 ? format(datum.value, '.2f') : ''","tickSize":9,"labelFontSize":26,"labelPadding":11,"title":null}},
      "y": {"field":"y","type":"quantitative","scale":{"domain":[0,100],"range":[1171.5,1063.5],"nice":false,"zero":false},"axis":null}
    },
    "layer": [
      {"data":{"name":"curves"},"transform":[{"filter":"datum.p=='P3'"}],"mark":{"type":"line","interpolate":"monotone","color":"#e4784b","strokeWidth":2.6,"strokeDash":[8,5]}},
      {"data":{"name":"plab"},"transform":[{"filter":"datum.p=='P3'"}],"mark":{"type":"text","fontSize":40,"fontWeight":600,"align":"left","baseline":"alphabetic","color":"#e4784b"},"encoding":{"text":{"field":"ion"}}},
      {"data":{"name":"plab"},"transform":[{"filter":"datum.p=='P3'"}],"mark":{"type":"text","fontSize":26,"fontWeight":600,"align":"left","baseline":"alphabetic","dx":23,"dy":6,"color":"#e4784b"},"encoding":{"text":{"field":"n"}}},
      {"data":{"name":"plab"},"transform":[{"filter":"datum.p=='P3'"}],"mark":{"type":"text","text":"+","fontSize":24,"align":"left","baseline":"alphabetic","dx":38,"dy":-14,"color":"#e4784b"}}
    ]
  },
  {
    "encoding": {
      "x": {"field":"x","type":"quantitative","scale":{"domain":[656.3569,656.4082],"range":[919.6,1170.2],"nice":false,"zero":false},"axis":{"orient":"bottom","offset":-257.5,"values":[656.36,656.37,656.38,656.39,656.40],"labelExpr":"indexof([656.37,656.39], datum.value) >= 0 ? format(datum.value, '.2f') : ''","tickSize":9,"labelFontSize":26,"labelPadding":11,"title":null}},
      "y": {"field":"y","type":"quantitative","scale":{"domain":[0,100],"range":[1171.5,1063.5],"nice":false,"zero":false},"axis":null}
    },
    "layer": [
      {"data":{"name":"curves"},"transform":[{"filter":"datum.p=='P4'"}],"mark":{"type":"line","interpolate":"monotone","color":"#e4784b","strokeWidth":2.6,"strokeDash":[8,5]}},
      {"data":{"name":"plab"},"transform":[{"filter":"datum.p=='P4'"}],"mark":{"type":"text","fontSize":40,"fontWeight":600,"align":"left","baseline":"alphabetic","color":"#e4784b"},"encoding":{"text":{"field":"ion"}}},
      {"data":{"name":"plab"},"transform":[{"filter":"datum.p=='P4'"}],"mark":{"type":"text","fontSize":26,"fontWeight":600,"align":"left","baseline":"alphabetic","dx":23,"dy":6,"color":"#e4784b"},"encoding":{"text":{"field":"n"}}},
      {"data":{"name":"plab"},"transform":[{"filter":"datum.p=='P4'"}],"mark":{"type":"text","text":"+","fontSize":24,"align":"left","baseline":"alphabetic","dx":38,"dy":-14,"color":"#e4784b"}}
    ]
  },
  {
    "encoding": {
      "x": {"field":"x","type":"quantitative","scale":{"domain":[606.3464,606.397],"range":[1235.2,1485.1],"nice":false,"zero":false},"axis":{"orient":"bottom","offset":-257.5,"values":[606.35,606.36,606.37,606.38,606.39],"labelExpr":"indexof([606.36,606.38], datum.value) >= 0 ? format(datum.value, '.2f') : ''","tickSize":9,"labelFontSize":26,"labelPadding":11,"title":null}},
      "y": {"field":"y","type":"quantitative","scale":{"domain":[0,100],"range":[1171.5,1063.5],"nice":false,"zero":false},"axis":null}
    },
    "layer": [
      {"data":{"name":"curves"},"transform":[{"filter":"datum.p=='P5'"}],"mark":{"type":"line","interpolate":"monotone","color":"#5dbf9e","strokeWidth":2.6,"strokeDash":[8,5]}},
      {"data":{"name":"plab"},"transform":[{"filter":"datum.p=='P5'"}],"mark":{"type":"text","fontSize":40,"fontWeight":600,"align":"left","baseline":"alphabetic","color":"#5dbf9e"},"encoding":{"text":{"field":"ion"}}},
      {"data":{"name":"plab"},"transform":[{"filter":"datum.p=='P5'"}],"mark":{"type":"text","fontSize":26,"fontWeight":600,"align":"left","baseline":"alphabetic","dx":23,"dy":6,"color":"#5dbf9e"},"encoding":{"text":{"field":"n"}}},
      {"data":{"name":"plab"},"transform":[{"filter":"datum.p=='P5'"}],"mark":{"type":"text","text":"+","fontSize":24,"align":"left","baseline":"alphabetic","dx":38,"dy":-14,"color":"#5dbf9e"}}
    ]
  },
  {
    "encoding": {
      "x": {"field":"x","type":"quantitative","scale":{"domain":[720.3935,720.4193],"range":[1532.2,1782.5],"nice":false,"zero":false},"axis":{"orient":"bottom","offset":-257.5,"values":[720.395,720.40,720.405,720.41,720.415],"labelExpr":"indexof([720.40,720.41], datum.value) >= 0 ? format(datum.value, '.2f') : ''","tickSize":9,"labelFontSize":26,"labelPadding":11,"title":null}},
      "y": {"field":"y","type":"quantitative","scale":{"domain":[0,100],"range":[1171.5,1063.5],"nice":false,"zero":false},"axis":null}
    },
    "layer": [
      {"data":{"name":"curves"},"transform":[{"filter":"datum.p=='P6'"}],"mark":{"type":"line","interpolate":"monotone","color":"#5dbf9e","strokeWidth":2.6,"strokeDash":[8,5]}},
      {"data":{"name":"plab"},"transform":[{"filter":"datum.p=='P6'"}],"mark":{"type":"text","fontSize":40,"fontWeight":600,"align":"left","baseline":"alphabetic","color":"#5dbf9e"},"encoding":{"text":{"field":"ion"}}},
      {"data":{"name":"plab"},"transform":[{"filter":"datum.p=='P6'"}],"mark":{"type":"text","fontSize":26,"fontWeight":600,"align":"left","baseline":"alphabetic","dx":23,"dy":6,"color":"#5dbf9e"},"encoding":{"text":{"field":"n"}}},
      {"data":{"name":"plab"},"transform":[{"filter":"datum.p=='P6'"}],"mark":{"type":"text","text":"+","fontSize":24,"align":"left","baseline":"alphabetic","dx":38,"dy":-14,"color":"#5dbf9e"}}
    ]
  },
  {
    "encoding": {
      "x": {"field":"x","type":"quantitative","scale":{"domain":[649.3775,649.4243],"range":[7.7,258.3],"nice":false,"zero":false},"axis":{"orient":"bottom","offset":-50,"values":[649.38,649.39,649.40,649.41,649.42],"labelExpr":"indexof([649.39,649.41], datum.value) >= 0 ? format(datum.value, '.2f') : ''","tickSize":9,"labelFontSize":26,"labelPadding":11,"title":null}},
      "y": {"field":"y","type":"quantitative","scale":{"domain":[0,100],"range":[1379,1271],"nice":false,"zero":false},"axis":null}
    },
    "layer": [
      {"data":{"name":"curves"},"transform":[{"filter":"datum.p=='P7'"}],"mark":{"type":"line","interpolate":"monotone","color":"#4b8bbe","strokeWidth":2.6}},
      {"data":{"name":"plab"},"transform":[{"filter":"datum.p=='P7'"}],"mark":{"type":"text","fontSize":40,"fontWeight":600,"align":"left","baseline":"alphabetic","color":"#4b8bbe"},"encoding":{"text":{"field":"ion"}}},
      {"data":{"name":"plab"},"transform":[{"filter":"datum.p=='P7'"}],"mark":{"type":"text","fontSize":26,"fontWeight":600,"align":"left","baseline":"alphabetic","dx":21,"dy":6,"color":"#4b8bbe"},"encoding":{"text":{"field":"n"}}},
      {"data":{"name":"plab"},"transform":[{"filter":"datum.p=='P7'"}],"mark":{"type":"text","text":"+","fontSize":24,"align":"left","baseline":"alphabetic","dx":36,"dy":-14,"color":"#4b8bbe"}}
    ]
  },
  {
    "encoding": {
      "x": {"field":"x","type":"quantitative","scale":{"domain":[762.4567,762.5081],"range":[302.3,553],"nice":false,"zero":false},"axis":{"orient":"bottom","offset":-50,"values":[762.46,762.47,762.48,762.49,762.50],"labelExpr":"indexof([762.47,762.49], datum.value) >= 0 ? format(datum.value, '.2f') : ''","tickSize":9,"labelFontSize":26,"labelPadding":11,"title":null}},
      "y": {"field":"y","type":"quantitative","scale":{"domain":[0,100],"range":[1379,1271],"nice":false,"zero":false},"axis":null}
    },
    "layer": [
      {"data":{"name":"curves"},"transform":[{"filter":"datum.p=='P8'"}],"mark":{"type":"line","interpolate":"monotone","color":"#4b8bbe","strokeWidth":2.6}},
      {"data":{"name":"plab"},"transform":[{"filter":"datum.p=='P8'"}],"mark":{"type":"text","fontSize":40,"fontWeight":600,"align":"left","baseline":"alphabetic","color":"#4b8bbe"},"encoding":{"text":{"field":"ion"}}},
      {"data":{"name":"plab"},"transform":[{"filter":"datum.p=='P8'"}],"mark":{"type":"text","fontSize":26,"fontWeight":600,"align":"left","baseline":"alphabetic","dx":21,"dy":6,"color":"#4b8bbe"},"encoding":{"text":{"field":"n"}}},
      {"data":{"name":"plab"},"transform":[{"filter":"datum.p=='P8'"}],"mark":{"type":"text","text":"+","fontSize":24,"align":"left","baseline":"alphabetic","dx":36,"dy":-14,"color":"#4b8bbe"}}
    ]
  },
  {
    "encoding": {
      "x": {"field":"x","type":"quantitative","scale":{"domain":[549.3568,549.4071],"range":[626,877.5],"nice":false,"zero":false},"axis":{"orient":"bottom","offset":-50,"values":[549.36,549.37,549.38,549.39,549.40],"labelExpr":"indexof([549.37,549.39], datum.value) >= 0 ? format(datum.value, '.2f') : ''","tickSize":9,"labelFontSize":26,"labelPadding":11,"title":null}},
      "y": {"field":"y","type":"quantitative","scale":{"domain":[0,100],"range":[1379,1271],"nice":false,"zero":false},"axis":null}
    },
    "layer": [
      {"data":{"name":"curves"},"transform":[{"filter":"datum.p=='P9'"}],"mark":{"type":"line","interpolate":"monotone","color":"#e4784b","strokeWidth":2.6}},
      {"data":{"name":"plab"},"transform":[{"filter":"datum.p=='P9'"}],"mark":{"type":"text","fontSize":40,"fontWeight":600,"align":"left","baseline":"alphabetic","color":"#e4784b"},"encoding":{"text":{"field":"ion"}}},
      {"data":{"name":"plab"},"transform":[{"filter":"datum.p=='P9'"}],"mark":{"type":"text","fontSize":26,"fontWeight":600,"align":"left","baseline":"alphabetic","dx":21,"dy":6,"color":"#e4784b"},"encoding":{"text":{"field":"n"}}},
      {"data":{"name":"plab"},"transform":[{"filter":"datum.p=='P9'"}],"mark":{"type":"text","text":"+","fontSize":24,"align":"left","baseline":"alphabetic","dx":36,"dy":-14,"color":"#e4784b"}}
    ]
  },
  {
    "encoding": {
      "x": {"field":"x","type":"quantitative","scale":{"domain":[735.435,735.4881],"range":[919.6,1170.2],"nice":false,"zero":false},"axis":{"orient":"bottom","offset":-50,"values":[735.44,735.45,735.46,735.47,735.48],"labelExpr":"indexof([735.45,735.47], datum.value) >= 0 ? format(datum.value, '.2f') : ''","tickSize":9,"labelFontSize":26,"labelPadding":11,"title":null}},
      "y": {"field":"y","type":"quantitative","scale":{"domain":[0,100],"range":[1379,1271],"nice":false,"zero":false},"axis":null}
    },
    "layer": [
      {"data":{"name":"curves"},"transform":[{"filter":"datum.p=='P10'"}],"mark":{"type":"line","interpolate":"monotone","color":"#e4784b","strokeWidth":2.6}},
      {"data":{"name":"plab"},"transform":[{"filter":"datum.p=='P10'"}],"mark":{"type":"text","fontSize":40,"fontWeight":600,"align":"left","baseline":"alphabetic","color":"#e4784b"},"encoding":{"text":{"field":"ion"}}},
      {"data":{"name":"plab"},"transform":[{"filter":"datum.p=='P10'"}],"mark":{"type":"text","fontSize":26,"fontWeight":600,"align":"left","baseline":"alphabetic","dx":21,"dy":6,"color":"#e4784b"},"encoding":{"text":{"field":"n"}}},
      {"data":{"name":"plab"},"transform":[{"filter":"datum.p=='P10'"}],"mark":{"type":"text","text":"+","fontSize":24,"align":"left","baseline":"alphabetic","dx":36,"dy":-14,"color":"#e4784b"}}
    ]
  },
  {
    "encoding": {
      "x": {"field":"x","type":"quantitative","scale":{"domain":[559.3767,559.4269],"range":[1235.2,1485.1],"nice":false,"zero":false},"axis":{"orient":"bottom","offset":-50,"values":[559.38,559.39,559.40,559.41,559.42],"labelExpr":"indexof([559.39,559.41], datum.value) >= 0 ? format(datum.value, '.2f') : ''","tickSize":9,"labelFontSize":26,"labelPadding":11,"title":null}},
      "y": {"field":"y","type":"quantitative","scale":{"domain":[0,100],"range":[1379,1271],"nice":false,"zero":false},"axis":null}
    },
    "layer": [
      {"data":{"name":"curves"},"transform":[{"filter":"datum.p=='P11'"}],"mark":{"type":"line","interpolate":"monotone","color":"#5dbf9e","strokeWidth":2.6}},
      {"data":{"name":"plab"},"transform":[{"filter":"datum.p=='P11'"}],"mark":{"type":"text","fontSize":40,"fontWeight":600,"align":"left","baseline":"alphabetic","color":"#5dbf9e"},"encoding":{"text":{"field":"ion"}}},
      {"data":{"name":"plab"},"transform":[{"filter":"datum.p=='P11'"}],"mark":{"type":"text","fontSize":26,"fontWeight":600,"align":"left","baseline":"alphabetic","dx":21,"dy":6,"color":"#5dbf9e"},"encoding":{"text":{"field":"n"}}},
      {"data":{"name":"plab"},"transform":[{"filter":"datum.p=='P11'"}],"mark":{"type":"text","text":"+","fontSize":24,"align":"left","baseline":"alphabetic","dx":36,"dy":-14,"color":"#5dbf9e"}}
    ]
  },
  {
    "encoding": {
      "x": {"field":"x","type":"quantitative","scale":{"domain":[660.4333,660.4581],"range":[1532.2,1782.5],"nice":false,"zero":false},"axis":{"orient":"bottom","offset":-50,"values":[660.435,660.44,660.445,660.45,660.455],"labelExpr":"indexof([660.44,660.45], datum.value) >= 0 ? format(datum.value, '.2f') : ''","tickSize":9,"labelFontSize":26,"labelPadding":11,"title":null}},
      "y": {"field":"y","type":"quantitative","scale":{"domain":[0,100],"range":[1379,1271],"nice":false,"zero":false},"axis":null}
    },
    "layer": [
      {"data":{"name":"curves"},"transform":[{"filter":"datum.p=='P12'"}],"mark":{"type":"line","interpolate":"monotone","color":"#5dbf9e","strokeWidth":2.6}},
      {"data":{"name":"plab"},"transform":[{"filter":"datum.p=='P12'"}],"mark":{"type":"text","fontSize":40,"fontWeight":600,"align":"left","baseline":"alphabetic","color":"#5dbf9e"},"encoding":{"text":{"field":"ion"}}},
      {"data":{"name":"plab"},"transform":[{"filter":"datum.p=='P12'"}],"mark":{"type":"text","fontSize":26,"fontWeight":600,"align":"left","baseline":"alphabetic","dx":21,"dy":6,"color":"#5dbf9e"},"encoding":{"text":{"field":"n"}}},
      {"data":{"name":"plab"},"transform":[{"filter":"datum.p=='P12'"}],"mark":{"type":"text","text":"+","fontSize":24,"align":"left","baseline":"alphabetic","dx":36,"dy":-14,"color":"#5dbf9e"}}
    ]
  },
  {
    "data": {"name": "gt"},
    "encoding": {
      "x": {"field":"g","type":"nominal","scale":{"type":"point","domain":["blue","orange","green"],"range":[274.6,1500],"padding":0},"axis":null},
      "y": {"field":"y","type":"quantitative","scale":{"domain":[0,1],"range":[1010,1000],"nice":false,"zero":false},"axis":null},
      "color": {"field":"g","type":"nominal","scale":{"domain":["blue","orange","green"],"range":["#4b8bbe","#e4784b","#5dbf9e"]},"legend":null}
    },
    "layer": [
      {"mark":{"type":"text","fontSize":41,"fontWeight":600,"align":"center","baseline":"alphabetic"},"encoding":{"text":{"field":"m"}}},
      {"transform":[{"filter":"datum.g=='blue'"}],"mark":{"type":"text","text":"mdDL-","fontSize":26,"fontWeight":"bold","align":"right","baseline":"alphabetic","dx":-129}},
      {"transform":[{"filter":"datum.g=='blue'"}],"mark":{"type":"text","text":"-mdDL","fontSize":26,"fontWeight":"bold","align":"left","baseline":"alphabetic","dx":129}},
      {"transform":[{"filter":"datum.g=='orange'"}],"mark":{"type":"text","text":"mdDL-","fontSize":26,"fontWeight":"bold","align":"right","baseline":"alphabetic","dx":-152}},
      {"transform":[{"filter":"datum.g=='orange'"}],"mark":{"type":"text","text":"-mdDL","fontSize":26,"fontWeight":"bold","align":"left","baseline":"alphabetic","dx":152}},
      {"transform":[{"filter":"datum.g=='green'"}],"mark":{"type":"text","text":"mdDL-","fontSize":26,"fontWeight":"bold","align":"right","baseline":"alphabetic","dx":-138}},
      {"transform":[{"filter":"datum.g=='green'"}],"mark":{"type":"text","text":"-mdDL","fontSize":26,"fontWeight":"bold","align":"left","baseline":"alphabetic","dx":138}}
    ]
  }
]
}
